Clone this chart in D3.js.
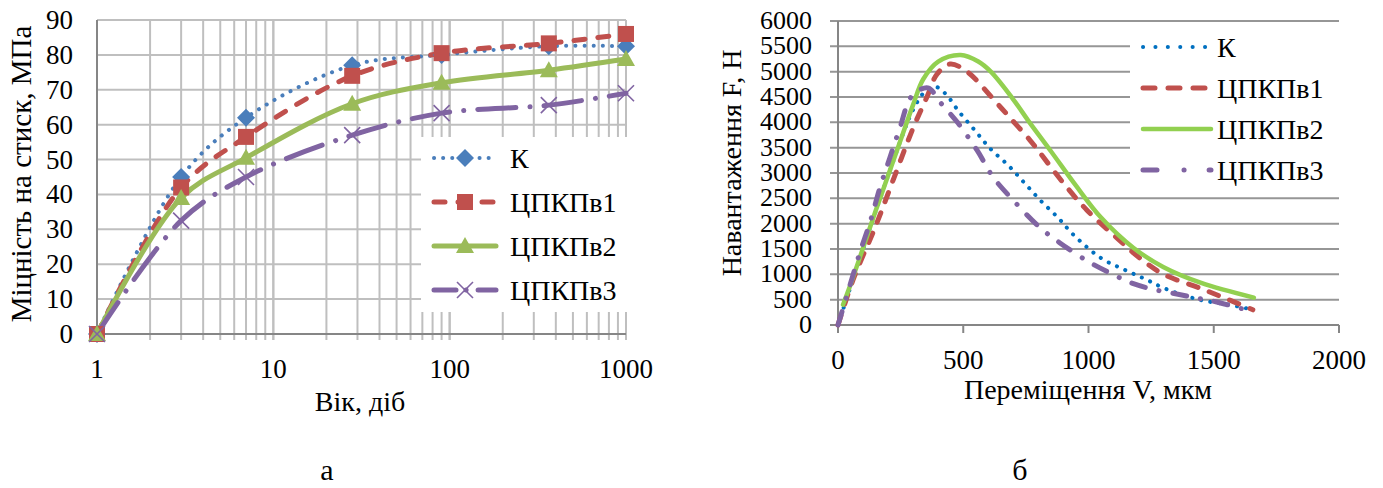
<!DOCTYPE html>
<html>
<head>
<meta charset="utf-8">
<script src="https://cdn.jsdelivr.net/npm/d3@7"></script>
<style>
body { margin: 0; background: #fff; }
svg text { font-family: "Liberation Serif", "Times New Roman", serif; fill: #000; }
</style>
</head>
<body>
<svg width="1383" height="488"></svg>
<script>
// ---- chart а: strength vs age ----
var ageDays = [1, 3, 7, 28, 90, 365, 1000];
var strengthK = [0, 45, 62, 77, 80, 82.5, 82.5];
var strengthV1 = [0, 42, 56.5, 74, 80.5, 83.3, 86];
var strengthV2 = [0, 39, 50.5, 66, 72, 75.6, 78.8];
var strengthV3 = [0, 32.5, 45, 57, 63.3, 65.6, 69];
var ageTicks = [1, 10, 100, 1000];
var strengthTicks = [0, 10, 20, 30, 40, 50, 60, 70, 80, 90];

// ---- chart б: load vs displacement ----
var loadK = [[0,0],[100,1500],[200,2950],[300,4250],[350,4620],[390,4700],[430,4560],[480,4230],[550,3820],[610,3470],[680,3150],[745,2800],[810,2450],[880,2110],[940,1780],[1050,1320],[1140,1100],[1225,910],[1310,710],[1450,490],[1550,410],[1660,300]];
var loadV1 = [[0,0],[60,890],[150,1950],[220,2860],[300,3890],[355,4500],[395,4950],[447,5150],[515,5000],[634,4380],[694,4050],[766,3650],[806,3400],[900,2800],[993,2270],[1113,1720],[1205,1320],[1300,1000],[1444,730],[1564,490],[1656,300]];
var loadV2 = [[20,400],[50,800],[100,1520],[150,2250],[200,2950],[250,3650],[300,4350],[340,4850],[400,5200],[490,5330],[560,5200],[610,5000],[700,4450],[760,4030],[850,3430],[950,2750],[1050,2120],[1180,1520],[1300,1140],[1450,830],[1660,540]];
var loadV3 = [[0,0],[48,790],[88,1440],[128,2030],[168,2720],[207,3300],[247,3890],[295,4520],[359,4680],[407,4400],[475,4010],[555,3450],[619,2920],[698,2470],[800,1950],[886,1620],[1009,1224],[1097,1000],[1165,840],[1253,710],[1352,612],[1432,533],[1512,454],[1632,296],[1664,260]];
var dispTicks = [0, 500, 1000, 1500, 2000];
var loadTicks = d3.range(0, 6001, 500);

var names = ["К", "ЦПКПв1", "ЦПКПв2", "ЦПКПв3"];

var svg = d3.select("svg");

function marker(g, type, x, y, color) {
	if (type == "diamond") {
		g.append("path").attr("d", "M" + x + "," + (y - 9) + "l9,9l-9,9l-9,-9z").attr("fill", color);
	} else if (type == "square") {
		g.append("rect").attr("x", x - 8).attr("y", y - 8).attr("width", 16).attr("height", 16).attr("fill", color);
	} else if (type == "triangle") {
		g.append("path").attr("d", "M" + x + "," + (y - 9) + "l9,16l-18,0z").attr("fill", color);
	} else if (type == "x") {
		g.append("path").attr("d", "M" + (x - 8) + "," + (y - 8) + "l16,16M" + (x + 8) + "," + (y - 8) + "l-16,16")
			.attr("stroke", color).attr("stroke-width", 1.6).attr("fill", "none");
	}
}

// ================= chart а =================
var xA = d3.scaleLog().domain([1, 1000]).range([97, 626]);
var yA = d3.scaleLinear().domain([0, 90]).range([334, 20]);

var gA = svg.append("g");
var minor = [];
[1, 10, 100].forEach(function(d) { for (var k = 1; k <= 10; k++) minor.push(d * k); });

gA.selectAll(".vg").data(minor.filter(function(d){ return d > 1; })).enter().append("line")
	.attr("x1", function(d){ return xA(d); }).attr("x2", function(d){ return xA(d); })
	.attr("y1", yA(90)).attr("y2", yA(0) + 6)
	.attr("stroke", "#bfbfbf").attr("stroke-width", 2);
gA.selectAll(".hg").data(strengthTicks.slice(1)).enter().append("line")
	.attr("x1", xA(1)).attr("x2", xA(1000))
	.attr("y1", function(d){ return yA(d); }).attr("y2", function(d){ return yA(d); })
	.attr("stroke", "#bfbfbf").attr("stroke-width", 2);
gA.append("line").attr("x1", xA(1)).attr("x2", xA(1)).attr("y1", yA(90)).attr("y2", yA(0) + 6)
	.attr("stroke", "#868686").attr("stroke-width", 2);
gA.append("line").attr("x1", xA(1)).attr("x2", xA(1000)).attr("y1", yA(0)).attr("y2", yA(0))
	.attr("stroke", "#868686").attr("stroke-width", 2);

// legend box (covers grid)
gA.append("rect").attr("x", 421).attr("y", 137).attr("width", 210).attr("height", 175).attr("fill", "#fff");

gA.selectAll(".yl").data(strengthTicks).enter().append("text")
	.attr("x", 73).attr("y", function(d){ return yA(d) + 9; })
	.attr("text-anchor", "end").style("font-size", "27px").text(function(d){ return d; });
gA.selectAll(".xl").data(ageTicks).enter().append("text")
	.attr("x", function(d){ return xA(d); }).attr("y", 378)
	.attr("text-anchor", "middle").style("font-size", "27px").text(function(d){ return d; });
gA.append("text").attr("x", 360).attr("y", 411).attr("text-anchor", "middle")
	.style("font-size", "28px").text("Вік, діб");
gA.append("text").attr("transform", "translate(31," + 174 + ") rotate(-90)").attr("text-anchor", "middle")
	.style("font-size", "29px").text("Міцність на стиск, МПа");

var seriesA = [
	{ v: strengthK, color: "#4a7ebb", w: 4, dash: "0.1 9", m: "diamond" },
	{ v: strengthV1, color: "#c0504d", w: 5, dash: "11 13", m: "square" },
	{ v: strengthV2, color: "#9bbb59", w: 5, dash: null, m: "triangle" },
	{ v: strengthV3, color: "#8064a2", w: 5, dash: "38 14 0.1 14", m: "x" }
];
var lineA = d3.line().x(function(d){ return xA(d[0]); }).y(function(d){ return yA(d[1]); })
	.curve(d3.curveCatmullRom);

seriesA.forEach(function(s) {
	var pts = ageDays.map(function(a, i){ return [a, s.v[i]]; });
	gA.append("path").attr("d", lineA(pts)).attr("fill", "none")
		.attr("stroke", s.color).attr("stroke-width", s.w).attr("stroke-linecap", "round")
		.attr("stroke-dasharray", s.dash);
});
seriesA.forEach(function(s) {
	ageDays.forEach(function(a, i){ marker(gA, s.m, xA(a), yA(s.v[i]), s.color); });
});

var legYA = [158, 202, 246, 290];
seriesA.forEach(function(s, i) {
	gA.append("line").attr("x1", 434).attr("x2", 496).attr("y1", legYA[i]).attr("y2", legYA[i])
		.attr("stroke", s.color).attr("stroke-width", s.w).attr("stroke-linecap", "round")
		.attr("stroke-dasharray", i == 3 ? "22 10 0.1 12" : s.dash);
	marker(gA, s.m, 465, legYA[i], s.color);
	gA.append("text").attr("x", 510).attr("y", legYA[i] + 10).style("font-size", "28px").text(names[i]);
});

svg.append("text").attr("x", 327).attr("y", 480).attr("text-anchor", "middle").style("font-size", "30px").text("а");

// ================= chart б =================
var xB = d3.scaleLinear().domain([0, 2000]).range([838, 1339]);
var yB = d3.scaleLinear().domain([0, 6000]).range([325, 21]);
var gB = svg.append("g");

gB.selectAll(".hg").data(loadTicks.slice(1)).enter().append("line")
	.attr("x1", xB(0) - 8).attr("x2", xB(2000))
	.attr("y1", function(d){ return yB(d); }).attr("y2", function(d){ return yB(d); })
	.attr("stroke", "#969696").attr("stroke-width", 2);
gB.append("line").attr("x1", xB(0) - 8).attr("x2", xB(2000)).attr("y1", yB(0)).attr("y2", yB(0))
	.attr("stroke", "#868686").attr("stroke-width", 2);
gB.append("line").attr("x1", xB(0)).attr("x2", xB(0)).attr("y1", yB(6000)).attr("y2", yB(0) + 8)
	.attr("stroke", "#868686").attr("stroke-width", 2);
gB.selectAll(".xt").data(dispTicks.slice(1)).enter().append("line")
	.attr("x1", function(d){ return xB(d); }).attr("x2", function(d){ return xB(d); })
	.attr("y1", yB(0)).attr("y2", yB(0) + 8)
	.attr("stroke", "#868686").attr("stroke-width", 2);

gB.append("rect").attr("x", 1130).attr("y", 34).attr("width", 209).attr("height", 152).attr("fill", "#fff");

gB.selectAll(".yl").data(loadTicks).enter().append("text")
	.attr("x", 812).attr("y", function(d){ return yB(d) + 8; })
	.attr("text-anchor", "end").style("font-size", "26px").text(function(d){ return d; });
gB.selectAll(".xl").data(dispTicks).enter().append("text")
	.attr("x", function(d){ return xB(d); }).attr("y", 369)
	.attr("text-anchor", "middle").style("font-size", "27px").text(function(d){ return d; });
gB.append("text").attr("x", 1088).attr("y", 399).attr("text-anchor", "middle")
	.style("font-size", "28px").text("Переміщення V, мкм");
gB.append("text").attr("transform", "translate(741," + 163 + ") rotate(-90)").attr("text-anchor", "middle")
	.style("font-size", "28px").text("Навантаження F, Н");

var seriesB = [
	{ v: loadK, color: "#0070c0", w: 4, dash: "0.1 9" },
	{ v: loadV1, color: "#c0504d", w: 5, dash: "10 12" },
	{ v: loadV2, color: "#92d050", w: 4.5, dash: null },
	{ v: loadV3, color: "#8064a2", w: 5, dash: "14 14 0.1 14" }
];
var lineB = d3.line().x(function(d){ return xB(d[0]); }).y(function(d){ return yB(d[1]); })
	.curve(d3.curveCatmullRom);
seriesB.forEach(function(s) {
	gB.append("path").attr("d", lineB(s.v)).attr("fill", "none")
		.attr("stroke", s.color).attr("stroke-width", s.w).attr("stroke-linecap", "round")
		.attr("stroke-dasharray", s.dash);
});

var legYB = [47, 88, 129, 170];
seriesB.forEach(function(s, i) {
	gB.append("line").attr("x1", 1143).attr("x2", 1211).attr("y1", legYB[i]).attr("y2", legYB[i])
		.attr("stroke", s.color).attr("stroke-width", s.w).attr("stroke-linecap", "round")
		.attr("stroke-dasharray", i == 0 ? "0.1 12.3" : (i == 1 ? "12 13" : (i == 3 ? "14 27 0.1 25" : null)));
	gB.append("text").attr("x", 1217).attr("y", legYB[i] + 10).style("font-size", "28px").text(names[i]);
});

svg.append("text").attr("x", 1020).attr("y", 480).attr("text-anchor", "middle").style("font-size", "30px").text("б");
</script>
</body>
</html>
